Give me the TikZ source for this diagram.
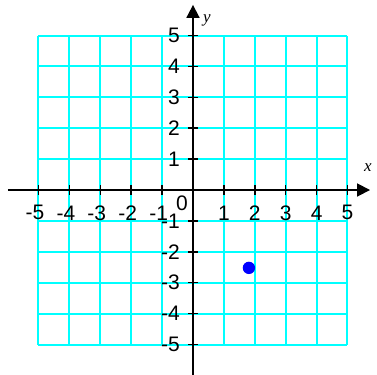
\documentclass[tikz,border=0pt]{standalone}
\usepackage{fontspec}
\setmainfont{Liberation Sans}
\newfontfamily\varfont{Liberation Serif}
\usetikzlibrary{arrows.meta}
\definecolor{gridcyan}{RGB}{0,255,255}
\definecolor{dotblue}{RGB}{0,0,255}
\begin{document}
\begin{tikzpicture}[x=30.9pt,y=30.9pt,
  gridline/.style={gridcyan,line width=2pt},
  axisline/.style={black,line width=1.8pt,-{Triangle[length=13pt,width=13pt]}},
  tickmark/.style={black,line width=1.5pt},
  numlabel/.style={font=\fontsize{21}{21}\selectfont,inner sep=0pt},
  varlabel/.style={font=\fontsize{17}{17}\selectfont\varfont\itshape,inner sep=0pt}]
\useasboundingbox (-6.246,-5.955) rectangle (5.955,6.149);
% grid
\foreach \k in {-5,...,5}{
  \draw[gridline] (\k,-5) -- (\k,5);
  \draw[gridline] (-5,\k) -- (5,\k);
}
% axes
\coordinate (xs) at (-5.99,0);
\coordinate (xe) at (5.73,0);
\coordinate (ys) at (0,-6.0);
\coordinate (ye) at (0,5.99);
\draw[axisline] (xs) -- (xe);
\draw[axisline] (ys) -- (ye);
% ticks and labels
\foreach \k in {-5,...,-1,1,2,...,5}{
  \draw[tickmark] (\k,-0.15) -- (\k,0.15);
  \draw[tickmark] (-0.15,\k) -- (0.15,\k);
}
\foreach \k in {1,...,5}{
  \node[numlabel] (xl\k) at (\k,-0.74) {\k};
  \node[numlabel] (xn\k) at (-\k,-0.74) {\llap{-}\k};
  \node[numlabel,anchor=east] (yl\k) at (-0.42,\k) {\k};
  \node[numlabel,anchor=east] (yn\k) at (-0.42,-\k) {-\k};
}
\node[numlabel] (o) at (-0.36,-0.42) {0};
\node[varlabel] (xlab) at (5.66,0.72) {x};
\node[varlabel] (ylab) at (0.45,5.5) {y};
% point
\fill[dotblue] (1.81,-2.52) circle (0.2);
\end{tikzpicture}
\end{document}
